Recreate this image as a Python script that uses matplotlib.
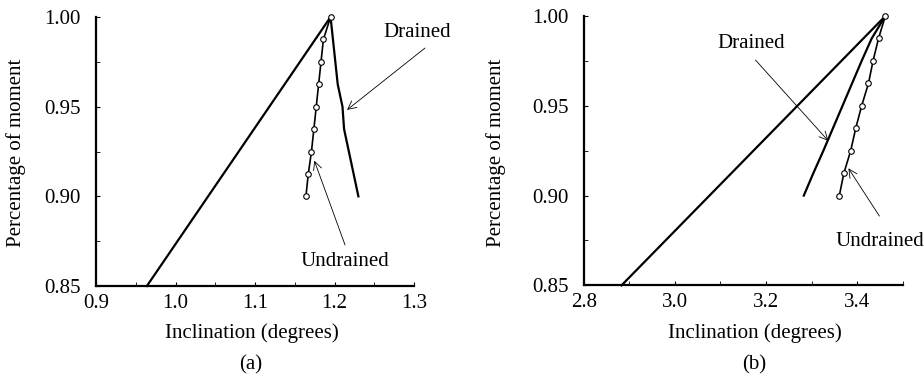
import numpy as np
import matplotlib.pyplot as plt
from matplotlib.ticker import MultipleLocator

plt.rcParams['font.family'] = ['Liberation Serif', 'DejaVu Serif']
plt.rcParams['font.size'] = 15

# share of moment, same steps for every curve
moment = [1.0, 0.9875, 0.975, 0.9625, 0.95, 0.9375, 0.925, 0.9125, 0.9]

# panel (a)
a_linear_x = [0.964, 1.195]
a_linear_y = [0.85, 1.0]
a_drained_x = [1.195, 1.198, 1.201, 1.204, 1.210, 1.212, 1.218, 1.224, 1.230]
a_undrained_x = [1.195, 1.186, 1.183, 1.180, 1.177, 1.174, 1.171, 1.167, 1.164]

# panel (b)
b_linear_x = [2.883, 3.462]
b_linear_y = [0.85, 1.0]
b_drained_x = [3.462, 3.432, 3.410, 3.389, 3.368, 3.347, 3.326, 3.304, 3.283]
b_undrained_x = [3.462, 3.447, 3.435, 3.425, 3.410, 3.397, 3.386, 3.371, 3.361]


def style_axes(ax, xlim, xmajor, xminor):
    ax.set_xlim(*xlim)
    ax.set_ylim(0.85, 1.0)
    for s in ['top', 'right']:
        ax.spines[s].set_visible(False)
    for s in ['left', 'bottom']:
        ax.spines[s].set_linewidth(1.6)
    ax.xaxis.set_major_locator(MultipleLocator(xmajor))
    ax.xaxis.set_minor_locator(MultipleLocator(xminor))
    ax.yaxis.set_major_locator(MultipleLocator(0.05))
    ax.yaxis.set_minor_locator(MultipleLocator(0.025))
    ax.yaxis.set_major_formatter(plt.FormatStrFormatter('%.2f'))
    ax.tick_params(which='major', direction='in', length=3, width=0.8)
    ax.tick_params(which='minor', direction='in', length=3, width=0.6)
    ax.tick_params(axis='y', which='both', pad=11)
    ax.tick_params(axis='x', which='both', pad=5.5)
    ax.set_ylabel('Percentage of moment')
    ax.set_xlabel('Inclination (degrees)')


def draw_curves(ax, lin_x, lin_y, dr_x, un_x):
    ax.plot(lin_x, lin_y, color='black', lw=1.6, clip_on=False)
    ax.plot(dr_x, moment, color='black', lw=1.6, clip_on=False)
    ax.plot(un_x, moment, color='black', lw=1.2, marker='o', ms=4,
            mfc='white', mec='black', mew=0.8, clip_on=False, zorder=3)


def note(ax, text, xy, xytext, textpos):
    ax.annotate('', xy=xy, xytext=xytext,
                arrowprops=dict(arrowstyle='->', lw=0.6, color='black',
                                shrinkA=0, shrinkB=0))
    ax.text(textpos[0], textpos[1], text, ha='center', va='center',
            clip_on=False)


fig = plt.figure(figsize=(9.24, 3.79), dpi=100)
ax1 = fig.add_axes([0.1039, 0.2454, 0.3442, 0.7097])
ax2 = fig.add_axes([0.6317, 0.2470, 0.3452, 0.7107])

draw_curves(ax1, a_linear_x, a_linear_y, a_drained_x, a_undrained_x)
style_axes(ax1, (0.9, 1.3), 0.1, 0.05)
ax1.xaxis.set_major_formatter(plt.FormatStrFormatter('%.1f'))
note(ax1, 'Drained', (1.2157, 0.9482), (1.3138, 0.9827), (1.304, 0.9911))
note(ax1, 'Undrained', (1.1746, 0.9199), (1.2132, 0.8729), (1.2132, 0.8634))
ax1.yaxis.set_label_coords(-0.22, 0.494)
ax1.xaxis.set_label_coords(0.49, -0.14)
ax1.text(0.486, -0.295, '(a)', transform=ax1.transAxes, ha='center', va='center')

draw_curves(ax2, b_linear_x, b_linear_y, b_drained_x, b_undrained_x)
style_axes(ax2, (2.8, 3.5), 0.2, 0.1)
ax2.set_xticks([2.8, 3.0, 3.2, 3.4])
ax2.xaxis.set_major_formatter(plt.FormatStrFormatter('%.1f'))
note(ax2, 'Drained', (3.3368, 0.9305), (3.177, 0.9755), (3.168, 0.9848))
note(ax2, 'Undrained', (3.381, 0.9152), (3.449, 0.8886), (3.449, 0.8743))
ax2.yaxis.set_label_coords(-0.244, 0.494)
ax2.xaxis.set_label_coords(0.536, -0.14)
ax2.text(0.536, -0.295, '(b)', transform=ax2.transAxes, ha='center', va='center')

fig.savefig('out.png', dpi=100)
